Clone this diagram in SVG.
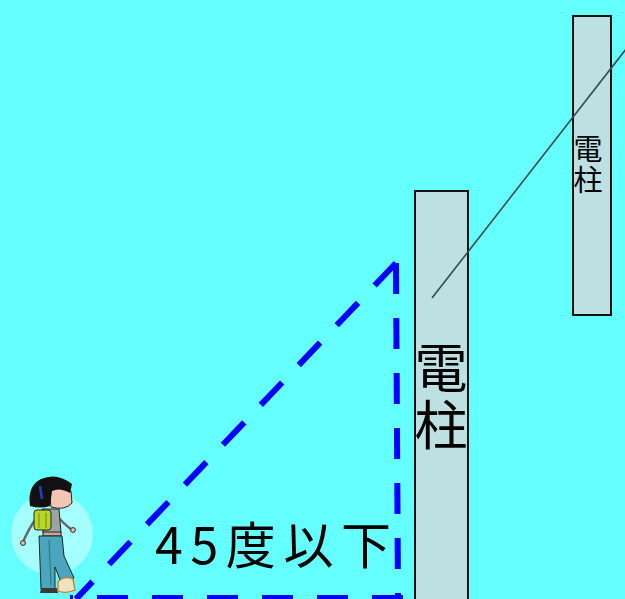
<svg xmlns="http://www.w3.org/2000/svg" width="625" height="599" viewBox="0 0 625 599">
  <style>
    .pole { fill: #bde0e3; stroke: #111; stroke-width: 2; }
    .sight { fill: none; stroke: #0000ff; stroke-width: 6; stroke-dasharray: 31 24; }
    .label { font-family: "Noto Sans CJK JP", "Noto Sans", sans-serif; fill: #000; }
    .vert { writing-mode: vertical-rl; }
    .ink { stroke: #222; stroke-width: 1; }
  </style>

  <!-- sky -->
  <rect x="0" y="0" width="625" height="599" fill="#66ffff"/>

  <!-- far pole -->
  <g id="pole-far">
    <rect class="pole" x="573" y="16" width="38" height="299"/>
    <text class="label vert" x="588" y="134" font-size="29" letter-spacing="2">電柱</text>
  </g>

  <!-- near pole -->
  <g id="pole-near">
    <rect class="pole" x="415" y="191" width="53" height="420"/>
    <text class="label vert" x="441" y="341" font-size="53" letter-spacing="4">電柱</text>
  </g>

  <!-- overhead wire -->
  <g id="wire">
    <line x1="432" y1="298" x2="630" y2="44" stroke="#3a4a4a" stroke-width="1.6"/>
  </g>

  <!-- sight-line triangle -->
  <g id="connectors">
    <path class="sight" d="M396,263 L398,599"/>
    <path class="sight" d="M396,263 L76,599"/>
    <path class="sight" d="M403,598 L70,598"/>
  </g>

  <g id="angle-label">
    <text class="label" x="155" y="564" font-size="50" textLength="236" lengthAdjust="spacing">45度以下</text>
  </g>

  <!-- walker -->
  <g id="walker">
    <circle cx="52" cy="534" r="41" fill="#a6ffff"/>
    <!-- left arm -->
    <path d="M37,517 Q28,530 23,542" fill="none" stroke="#666" stroke-width="2.4"/>
    <circle cx="23" cy="543" r="2.4" fill="#f0c4b4" class="ink"/>
    <!-- right arm -->
    <path d="M55,514 Q64,524 72,530" fill="none" stroke="#666" stroke-width="2.4"/>
    <circle cx="73" cy="530" r="2.4" fill="#f0c4b4" class="ink"/>
    <!-- torso -->
    <path d="M42,509 L59,509 L61,533 L43,533 Z" fill="#9aa4a4" class="ink"/>
    <!-- belt -->
    <rect x="43" y="532" width="18" height="4" fill="#c9a89a" class="ink"/>
    <!-- legs -->
    <path d="M39,536 L62,536 L64,556 L74,578 L62,585 L55,567 L55,589 L41,589 Z" fill="#4aa6bd" class="ink"/>
    <path d="M49,540 L51,585" stroke="#2c6f80" stroke-width="1" fill="none"/>
    <!-- shoes -->
    <path d="M41,588 L57,588 L58,593 L40,593 Z" fill="#3a3a3a"/>
    <path d="M58,582 Q64,575 73,579 L75,590 Q66,594 58,591 Z" fill="#efe2c0" stroke="#c87a20" stroke-width="1.3"/>
    <!-- backpack -->
    <rect x="34" y="510" width="17" height="20" rx="3" fill="#b8d62a" class="ink"/>
    <path d="M39,513 L39,528 M46,513 L46,528" stroke="#6c8a10" stroke-width="1"/>
    <!-- head -->
    <path d="M49,488 Q62,484 71,491 L72,503 Q65,511 51,507 Z" fill="#f3c6b4" class="ink"/>
    <path d="M30,506 Q27,486 41,479 Q57,472 72,484 L70,493 Q60,487 52,491 L50,506 Q41,509 30,506 Z" fill="#111"/>
    <path d="M40,486 L42,499" stroke="#2040d0" stroke-width="2.5"/>
  </g>
</svg>
